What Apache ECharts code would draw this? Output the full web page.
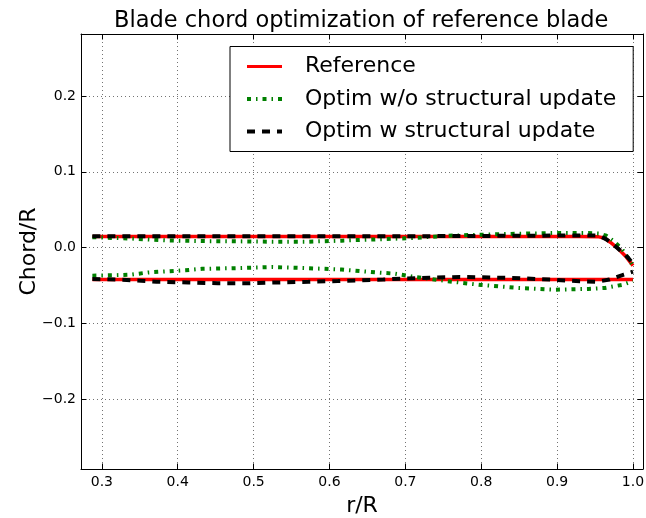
<!DOCTYPE html>
<html><head><meta charset="utf-8">
<script src="https://cdn.jsdelivr.net/npm/echarts@6/dist/echarts.min.js"></script>
<style>html,body{margin:0;padding:0;background:#fff}#c{width:646px;height:518px}</style>
</head><body><div id="c"></div>
<script>
// ---- data ----
const xTicks = [0.3, 0.4, 0.5, 0.6, 0.7, 0.8, 0.9, 1.0];
const yTicks = [-0.2, -0.1, 0.0, 0.1, 0.2];
const seriesNames = ['Reference', 'Optim w/o structural update', 'Optim w structural update'];

// Reference
const refX      = [0.2875, 0.35, 0.45, 0.55, 0.65, 0.75, 0.85, 0.93, 0.955, 0.962, 0.97, 0.98, 0.99, 1.0];
const refUpper  = [0.0146, 0.0146, 0.0146, 0.0146, 0.0146, 0.0146, 0.0146, 0.0146, 0.0143, 0.0129, 0.0072, -0.0008, -0.0108, -0.0236];
const refLower  = [-0.0418, -0.0420, -0.0420, -0.0420, -0.0420, -0.0420, -0.0420, -0.0420, -0.0420, -0.0420, -0.0420, -0.0420, -0.0420, -0.0420];

// Optim w/o structural update (upper edge)
const woUpX  = [0.2875, 0.34, 0.386, 0.432, 0.478, 0.524, 0.57, 0.616, 0.662, 0.708, 0.754, 0.8, 0.849, 0.895, 0.941, 0.955, 0.965, 0.975, 0.985, 0.993, 1.0];
const woUp   = [0.0138, 0.0120, 0.0096, 0.0087, 0.0084, 0.0079, 0.0079, 0.0093, 0.0110, 0.0127, 0.0157, 0.0171, 0.0184, 0.0193, 0.0193, 0.0186, 0.0157, 0.0082, -0.0013, -0.0127, -0.0240];
// Optim w/o structural update (lower edge)
const woLoX  = [0.2875, 0.315, 0.339, 0.361, 0.386, 0.41, 0.432, 0.478, 0.524, 0.57, 0.616, 0.662, 0.686, 0.708, 0.754, 0.8, 0.849, 0.895, 0.941, 0.963, 0.987, 1.0];
const woLo   = [-0.0368, -0.0363, -0.0354, -0.0326, -0.0311, -0.0297, -0.0278, -0.0269, -0.0255, -0.0269, -0.0288, -0.0326, -0.0342, -0.0378, -0.0439, -0.0491, -0.0530, -0.0553, -0.0543, -0.0530, -0.0487, -0.0439];

// Optim w structural update (upper edge)
const wUpX   = [0.2875, 0.35, 0.45, 0.55, 0.65, 0.75, 0.85, 0.93, 0.955, 0.965, 0.975, 0.985, 0.993, 1.0];
const wUp    = [0.0150, 0.0150, 0.0150, 0.0150, 0.0150, 0.0153, 0.0157, 0.0162, 0.0160, 0.0110, 0.0034, -0.0051, -0.0127, -0.0212];
// Optim w structural update (lower edge)
const wLoX   = [0.2875, 0.333, 0.372, 0.414, 0.453, 0.493, 0.532, 0.572, 0.611, 0.671, 0.693, 0.732, 0.772, 0.811, 0.851, 0.89, 0.93, 0.952, 0.969, 0.988, 1.0];
const wLo    = [-0.0411, -0.0425, -0.0449, -0.0458, -0.0468, -0.0468, -0.0458, -0.0449, -0.0439, -0.0420, -0.0408, -0.0395, -0.0386, -0.0392, -0.0401, -0.0420, -0.0442, -0.0449, -0.0420, -0.0354, -0.0316];

// ---- chart ----
const pairs = (xs, ys) => xs.map((x, i) => [x, ys[i]]);
const FONT = 'DejaVu Sans';
const gridStyle = { show: true, lineStyle: { color: 'rgba(0,0,0,0.55)', width: 1, type: [1, 3] } };
const tickStyle = { show: true, inside: true, length: 5.5, lineStyle: { color: '#000', width: 1 } };
const frameLine = { show: true, onZero: false, lineStyle: { color: '#000', width: 1 } };

const xBase = { type: 'value', min: 0.2725, max: 1.0132, gridIndex: 0 };
const yBase = { type: 'value', min: -0.2915, max: 0.2815, gridIndex: 0 };

const redStyle   = { color: '#ff0000', width: 3.5, type: 'solid' };
const greenStyle = { color: '#008000', width: 4, type: [4, 5, 1.5, 5] };
const blackStyle = { color: '#000000', width: 4, type: [8, 7] };

function mk(name, data, ls, z) {
  return { name, type: 'line', data, showSymbol: false, symbol: 'none', lineStyle: ls,
           itemStyle: { color: ls.color }, z, silent: true, animation: false,
           xAxisIndex: 0, yAxisIndex: 0 };
}
const hiddenSym = { opacity: 0, color: 'rgba(0,0,0,0)', borderWidth: 0 };

const chart = echarts.init(document.getElementById('c'), null, { renderer: 'canvas' });
chart.setOption({
  animation: false,
  backgroundColor: '#fff',
  textStyle: { fontFamily: FONT },
  title: {
    text: 'Blade chord optimization of reference blade',
    left: 114, top: 10, padding: 0,
    textStyle: { fontFamily: FONT, fontSize: 22.5, fontWeight: 'normal', color: '#000', lineHeight: 22 }
  },
  grid: { left: 81, top: 34, right: 3, bottom: 49, containLabel: false, outerBoundsMode: 'none' },
  legend: {
    orient: 'vertical', left: 230, top: 46.5,
    data: [
      { name: seriesNames[0], lineStyle: { width: 3 }, itemStyle: hiddenSym },
      { name: seriesNames[1], lineStyle: { width: 4 }, itemStyle: hiddenSym },
      { name: seriesNames[2], lineStyle: { width: 4 }, itemStyle: hiddenSym }
    ],
    itemWidth: 35, itemHeight: 14, itemGap: 10.5,
    padding: [9, 17, 9, 15],
    borderColor: '#000', borderWidth: 1, borderRadius: 0,
    backgroundColor: '#fff',
    selectedMode: false,
    textStyle: { fontFamily: FONT, fontSize: 22, color: '#000', lineHeight: 22, padding: [0, 0, 0, 18] },
    z: 10
  },
  xAxis: [
    Object.assign({}, xBase, {
      position: 'bottom',
      name: 'r/R', nameLocation: 'middle', nameGap: 26, nameMoveOverlap: false,
      nameTextStyle: { fontFamily: FONT, fontSize: 22, color: '#000' },
      axisLine: frameLine, axisTick: Object.assign({ customValues: xTicks }, tickStyle),
      axisLabel: { customValues: xTicks, margin: 6, color: '#000', fontFamily: FONT, fontSize: 14,
                   formatter: v => v.toFixed(1) },
      splitLine: gridStyle
    }),
    Object.assign({}, xBase, {
      position: 'top',
      axisLine: frameLine, axisTick: Object.assign({ customValues: xTicks }, tickStyle),
      axisLabel: { show: false }, splitLine: { show: false }
    })
  ],
  yAxis: [
    Object.assign({}, yBase, {
      position: 'left',
      name: 'Chord/R', nameLocation: 'middle', nameGap: 41, nameMoveOverlap: false,
      nameTextStyle: { fontFamily: FONT, fontSize: 22, color: '#000' },
      axisLine: frameLine, axisTick: Object.assign({ customValues: yTicks }, tickStyle),
      axisLabel: { customValues: yTicks, margin: 5, color: '#000', fontFamily: FONT, fontSize: 14,
                   formatter: v => (v < -1e-9 ? '\u2212' : '') + Math.abs(v).toFixed(1) },
      splitLine: gridStyle
    }),
    Object.assign({}, yBase, {
      position: 'right',
      axisLine: frameLine, axisTick: Object.assign({ customValues: yTicks }, tickStyle),
      axisLabel: { show: false }, splitLine: { show: false }
    })
  ],
  series: [
    mk(seriesNames[0], pairs(refX, refUpper), redStyle, 2),
    mk(seriesNames[0], pairs(refX, refLower), redStyle, 2),
    mk(seriesNames[1], pairs(woUpX, woUp), greenStyle, 3),
    mk(seriesNames[1], pairs(woLoX, woLo), greenStyle, 3),
    mk(seriesNames[2], pairs(wUpX, wUp), blackStyle, 4),
    mk(seriesNames[2], pairs(wLoX, wLo), blackStyle, 4)
  ]
});
</script></body></html>
